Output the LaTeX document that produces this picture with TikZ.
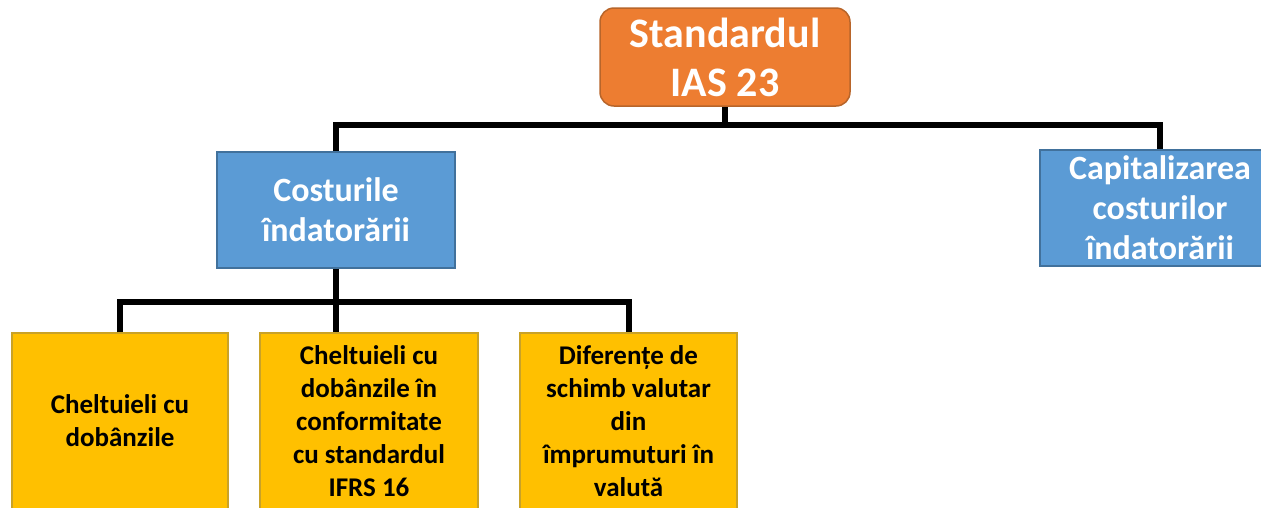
\documentclass[tikz,border=0pt]{standalone}
\usepackage{fontspec}
\setmainfont{Carlito}
\definecolor{orfill}{HTML}{ED7D31}
\definecolor{ordraw}{HTML}{B8652A}
\definecolor{blfill}{HTML}{5B9BD5}
\definecolor{bldraw}{HTML}{41719C}
\definecolor{yefill}{HTML}{FFC000}
\definecolor{yedraw}{HTML}{C9A227}
\tikzset{
  topbox/.style={draw=ordraw, fill=orfill, line width=1.5pt, rounded corners=14pt,
    minimum width=250pt, minimum height=98pt, inner sep=0pt, align=center, text=white,
    font=\bfseries\fontsize{42}{49}\selectfont},
  bluebox/.style={draw=bldraw, fill=blfill, line width=1.5pt,
    minimum height=116pt, inner sep=0pt, align=center, text=white,
    font=\bfseries\fontsize{34}{40}\selectfont},
  yellowbox/.style={draw=yedraw, fill=yefill, line width=1.5pt,
    minimum height=176pt, inner sep=0pt, align=center, text=black,
    font=\bfseries\fontsize{27}{33}\selectfont},
  conn/.style={draw=black, line width=6pt}
}
\begin{document}
\begin{tikzpicture}[x=1pt,y=-1pt]
\clip (0,0) rectangle (1261,507);
\fill[white] (0,0) rectangle (1261,507);
\node[topbox] (top) at (725,57) {Standardul\\IAS 23};
\node[bluebox, minimum width=238pt] (cost) at (336,210) {Costurile\\îndatorării};
\node[bluebox, minimum width=240pt] (cap) at (1160,208) {Capitalizarea\\costurilor\\îndatorării};
\node[yellowbox, minimum width=216pt] (box1) at (120,421) {Cheltuieli cu\\dobânzile};
\node[yellowbox, minimum width=218pt] (box2) at (369,421) {Cheltuieli cu\\dobânzile în\\conformitate\\cu standardul\\IFRS 16};
\node[yellowbox, minimum width=217pt] (box3) at (628.5,421) {Diferențe de\\schimb valutar\\din\\împrumuturi în\\valută};
\coordinate (bus1) at (725,125);
\coordinate (bus2) at (336,302);
\draw[conn] (top.south) -- (bus1);
\draw[conn] (cost.north) |- (bus1) -| (cap.north);
\draw[conn] (cost.south) -- (cost.south |- box2.north);
\draw[conn] (box1.north) |- (bus2) -| (box3.north);
\end{tikzpicture}
\end{document}
